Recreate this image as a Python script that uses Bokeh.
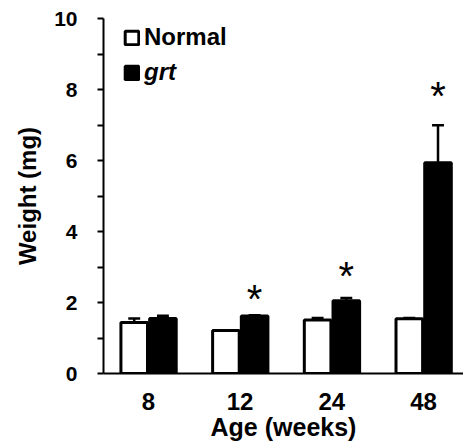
from bokeh.plotting import figure
from bokeh.models import Range1d, FixedTicker, Legend, LegendItem
from bokeh.embed import file_html
from bokeh.resources import INLINE
from bokeh.core.properties import value

# ---- data ----
ages = ["8", "12", "24", "48"]
normal = [1.44, 1.21, 1.51, 1.54]
normal_err = [0.11, 0.01, 0.05, 0.02]
grt = [1.55, 1.62, 2.05, 5.94]
grt_err = [0.08, 0.02, 0.08, 1.05]
star_y = [None, 2.25, 2.89, 7.95]   # heights of significance marks (*) over grt bars
y_ticks = [0, 2, 4, 6, 8, 10]
y_minor = [1, 3, 5, 7, 9]

FONT = "Liberation Sans"
idx = list(range(len(ages)))
off_n, off_g, bw, cap = -0.155, 0.158, 0.29, 0.065
xn = [i + off_n for i in idx]
xg = [i + off_g for i in idx]

p = figure(width=463, height=448, x_range=Range1d(-0.49, 3.436), y_range=Range1d(0, 10),
           output_backend="svg", toolbar_location=None,
           min_border_left=103, min_border_right=0, min_border_top=18, min_border_bottom=75)
p.outline_line_color = None
p.xgrid.visible = False
p.ygrid.visible = False
p.background_fill_color = "white"
p.border_fill_color = "white"

rn = p.vbar(x=xn, top=normal, width=bw, bottom=0, fill_color="white", line_color="black", line_width=3)
rg = p.vbar(x=xg, top=grt, width=bw, bottom=0, fill_color="black", line_color="black", line_width=3)

for xs, vals, errs in ((xn, normal, normal_err), (xg, grt, grt_err)):
    tops = [v + e for v, e in zip(vals, errs)]
    p.segment(x0=xs, y0=vals, x1=xs, y1=tops, line_color="black", line_width=2.5)
    p.segment(x0=[x - cap for x in xs], y0=tops, x1=[x + cap for x in xs], y1=tops,
              line_color="black", line_width=2.5)

sx = [xg[i] for i in idx if star_y[i] is not None]
sy = [star_y[i] for i in idx if star_y[i] is not None]
p.text(x=sx, y=sy, text=["*"] * len(sx), text_font=value(FONT), text_font_size="40px",
       text_align="center", text_baseline="alphabetic", y_offset=5, text_color="black")

# axes
for ax in (p.xaxis[0], p.yaxis[0]):
    ax.axis_line_color = "black"
    ax.axis_line_width = 2
    ax.major_label_text_color = "black"
    ax.axis_label_text_color = "black"
    ax.major_label_text_font = FONT
    ax.major_label_text_font_style = "bold"
    ax.axis_label_text_font = FONT
    ax.axis_label_text_font_style = "bold"

ya = p.yaxis[0]
ya.ticker = FixedTicker(ticks=y_ticks, minor_ticks=y_minor)
ya.axis_label = "Weight (mg)"
ya.major_tick_line_color = "black"
ya.minor_tick_line_color = "black"
ya.major_tick_line_width = 2
ya.minor_tick_line_width = 2
ya.major_tick_in = 0
ya.major_tick_out = 6
ya.minor_tick_in = 0
ya.minor_tick_out = 6
ya.major_label_standoff = 20
ya.axis_label_standoff = 10
ya.major_label_text_font_size = "21px"
ya.axis_label_text_font_size = "24px"

xa = p.xaxis[0]
xa.ticker = FixedTicker(ticks=idx)
xa.major_label_overrides = {i: a for i, a in zip(idx, ages)}
xa.axis_label = "Age (weeks)"
xa.major_tick_line_color = None
xa.minor_tick_line_color = None
xa.major_label_standoff = 13
xa.axis_label_standoff = 0
xa.major_label_text_font_size = "24px"
xa.axis_label_text_font_size = "25px"

# legends (two, so that "grt" can be italic)
def make_legend(label, rend, y, style):
    lg = Legend(items=[LegendItem(label=label, renderers=[rend])], location=(20, y),
                glyph_width=17, glyph_height=17, label_height=17, label_standoff=4,
                padding=0, margin=0, border_line_color=None, background_fill_alpha=0,
                label_text_font=FONT, label_text_font_size="24px", label_text_font_style=style,
                label_text_color="black")
    p.add_layout(lg)

make_legend("Normal", rn, 322, "bold")
make_legend("grt", rg, 287, "bold italic")

open("out.html", "w").write(file_html(p, INLINE))
